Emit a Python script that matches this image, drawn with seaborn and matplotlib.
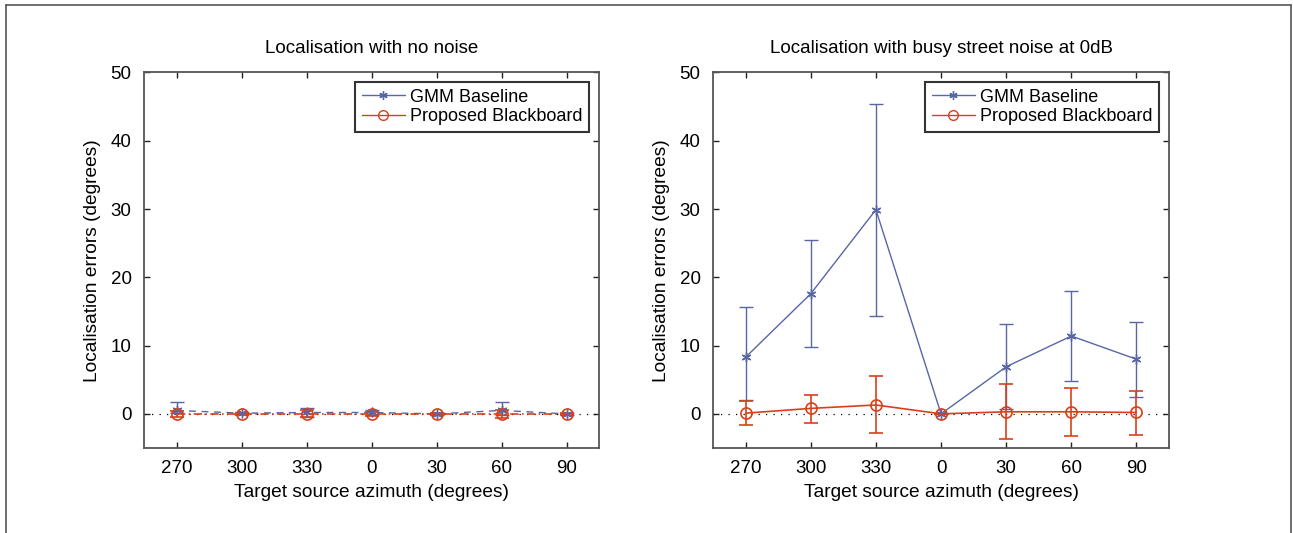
import numpy as np
import pandas as pd
import matplotlib.pyplot as plt
import seaborn as sns
from matplotlib.lines import Line2D

sns.set_style("white")
plt.rcParams["font.family"] = ["Liberation Sans", "DejaVu Sans"]
plt.rcParams["text.color"] = "black"
plt.rcParams["axes.labelcolor"] = "black"
plt.rcParams["xtick.color"] = "black"
plt.rcParams["ytick.color"] = "black"

azimuths = ["270", "300", "330", "0", "30", "60", "90"]

# no noise
gmm_clean = [0.5, 0.1, 0.2, 0.2, 0.0, 0.5, 0.0]
gmm_clean_lo = [0.4, 0.1, 0.6, 0.3, 0.1, 0.7, 0.1]
gmm_clean_hi = [1.2, 0.1, 0.7, 0.4, 0.1, 1.3, 0.1]
bb_clean = [0.0, 0.0, 0.0, 0.0, 0.0, 0.0, 0.0]
bb_clean_err = [0.4, 0.1, 0.5, 0.3, 0.1, 0.6, 0.1]

# busy street noise at 0dB
gmm_noise = [8.3, 17.6, 29.9, 0.0, 6.9, 11.4, 8.0]
gmm_noise_lo = [6.3, 7.8, 15.5, 0.0, 6.2, 6.6, 5.6]
gmm_noise_hi = [7.3, 7.8, 15.5, 0.0, 6.2, 6.6, 5.5]
bb_noise = [0.1, 0.8, 1.3, 0.0, 0.3, 0.3, 0.2]
bb_noise_lo = [1.8, 2.1, 4.1, 0.0, 4.0, 3.5, 3.3]
bb_noise_hi = [1.8, 2.0, 4.3, 0.0, 4.0, 3.5, 3.2]

blue = "#5866a6"
red = "#d9401a"
star = (6, 2, 0)

fig = plt.figure(figsize=(12.93, 5.33), dpi=100)
ax1 = fig.add_axes([0.1114, 0.1595, 0.3519, 0.7045])
ax2 = fig.add_axes([0.5515, 0.1595, 0.3526, 0.7045])

pos = np.arange(1, len(azimuths) + 1)

panels = [
    (ax1, "Localisation with no noise", gmm_clean, gmm_clean_lo, gmm_clean_hi,
     bb_clean, bb_clean_err, bb_clean_err, (0, (5, 4)), (0, (5, 2, 1, 2))),
    (ax2, "Localisation with busy street noise at 0dB", gmm_noise, gmm_noise_lo,
     gmm_noise_hi, bb_noise, bb_noise_lo, bb_noise_hi, "-", "-"),
]

for ax, title, g, glo, ghi, b, blo, bhi, ls_g, ls_b in panels:
    ax.axhline(0, color="black", linestyle=(0, (1, 5)), linewidth=0.9, zorder=1)
    df = pd.DataFrame({"pos": pos, "gmm": g, "bb": b})
    ax.errorbar(pos, g, yerr=[glo, ghi], fmt="none", ecolor=blue, elinewidth=1,
                capsize=5, capthick=1, zorder=2)
    ax.errorbar(pos, b, yerr=[blo, bhi], fmt="none", ecolor=red, elinewidth=1.2,
                capsize=5, capthick=1.2, zorder=3)
    sns.lineplot(data=df, x="pos", y="gmm", ax=ax, color=blue, linestyle=ls_g,
                 marker=star, markersize=7, markeredgecolor=blue,
                 markeredgewidth=1, linewidth=1, zorder=4)
    sns.lineplot(data=df, x="pos", y="bb", ax=ax, color=red, linestyle=ls_b,
                 marker="o", markersize=8, markerfacecolor="none",
                 markeredgecolor=red, markeredgewidth=1.2, linewidth=1.2, zorder=5)
    ax.set_xlim(0.5, 7.5)
    ax.set_ylim(-5, 50)
    ax.set_xticks(pos)
    ax.set_xticklabels(azimuths)
    ax.set_yticks([0, 10, 20, 30, 40, 50])
    ax.tick_params(direction="in", length=4, width=1, labelsize=13.5,
                   top=True, right=True, bottom=True, left=True, pad=9,
                   color="#222222")
    for s in ax.spines.values():
        s.set_color("#555555")
        s.set_linewidth(1.3)
    ax.set_title(title, fontsize=13.5, pad=14)
    ax.set_xlabel("Target source azimuth (degrees)", fontsize=13.8, labelpad=5)
    ax.set_ylabel("Localisation errors (degrees)", fontsize=13.8, labelpad=7)
    handles = [
        Line2D([], [], color=blue, marker=star, markersize=6, linewidth=1),
        Line2D([], [], color=red, marker="o", markersize=7, markerfacecolor="none",
               linewidth=1),
    ]
    leg = ax.legend(handles, ["GMM Baseline", "Proposed Blackboard"],
                    loc="upper right", fontsize=13, fancybox=False, frameon=True,
                    borderpad=0.35, labelspacing=0.15, handlelength=2.4,
                    handletextpad=0.3, borderaxespad=0.55)
    leg.get_frame().set_edgecolor("black")
    leg.get_frame().set_linewidth(1.5)

# outer frame
for xs, ys in [([6 / 1293, 6 / 1293], [0, 1 - 5 / 533]),
               ([6 / 1293, 1291 / 1293], [1 - 5 / 533, 1 - 5 / 533]),
               ([1291 / 1293, 1291 / 1293], [0, 1 - 5 / 533])]:
    fig.add_artist(Line2D(xs, ys, color="#555555", linewidth=1.2,
                          transform=fig.transFigure))

fig.savefig("out.png", dpi=100)
